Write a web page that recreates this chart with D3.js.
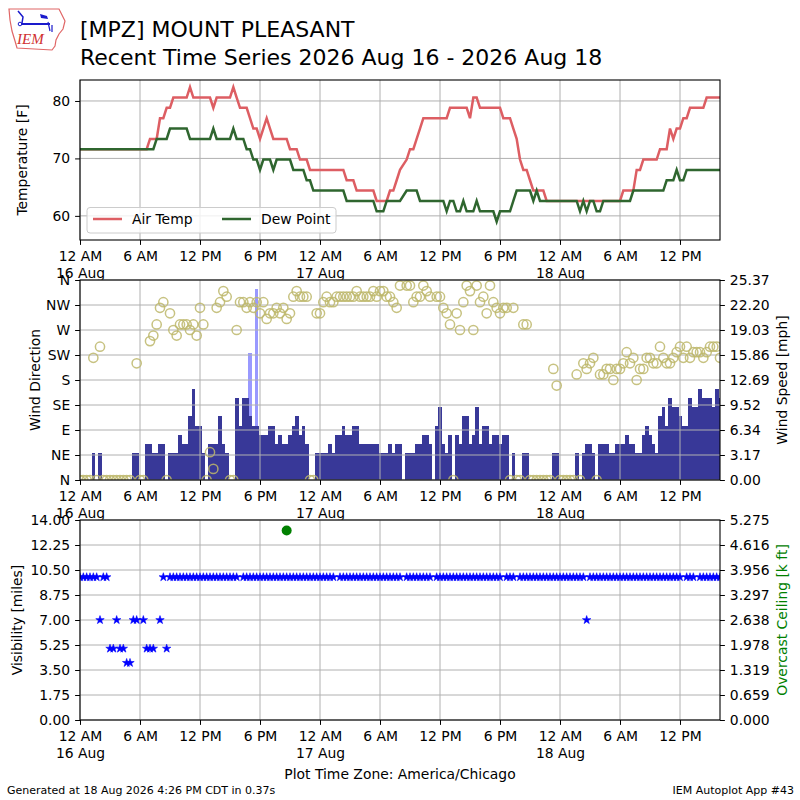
<!DOCTYPE html>
<html>
<head>
<meta charset="utf-8">
<script src="https://cdn.jsdelivr.net/npm/d3@7"></script>
<style>
  body { margin: 0; background: #ffffff; }
  svg { font-family: "DejaVu Sans", sans-serif; }
</style>
</head>
<body>
<div class="chart"></div>
<script>
// MPZ recent time series, one obs every 20 minutes from 16 Aug 00:00
var obsStart = new Date(2026, 7, 16, 0, 0);
var obsStepMinutes = 20;
var plotEnd = new Date(2026, 7, 18, 16, 0);

// air temperature [F], one row = 4 hours
var airTemp = [
  71.6, 71.6, 71.6, 71.6, 71.6, 71.6, 71.6, 71.6, 71.6, 71.6, 71.6, 71.6,
  71.6, 71.6, 71.6, 71.6, 71.6, 71.6, 71.6, 71.6, 71.6, 73.4, 73.4, 73.4,
  77, 77, 78.8, 78.8, 80.6, 80.6, 80.6, 80.6, 80.6, 82.4, 80.6, 80.6,
  80.6, 80.6, 80.6, 80.6, 78.8, 80.6, 80.6, 80.6, 80.6, 80.6, 82.4, 80.6,
  78.8, 78.8, 78.8, 77, 75.2, 75.2, 73.4, 75.2, 77, 75.2, 73.4, 73.4,
  73.4, 73.4, 73.4, 71.6, 71.6, 71.6, 69.8, 69.8, 69.8, 68, 68, 68,
  68, 68, 68, 68, 68, 68, 68, 68, 66.2, 66.2, 66.2, 64.4,
  64.4, 64.4, 64.4, 64.4, 64.4, 62.6, 62.6, 62.6, 62.6, 64.4, 64.4, 66.2,
  68, null, 69.8, 71.6, 71.6, 73.4, 75.2, 77, 77, 77, 77, 77,
  77, 77, 77, 78.8, 78.8, 78.8, 78.8, 78.8, 78.8, 77, 80.6, 80.6,
  78.8, 78.8, 78.8, 78.8, 78.8, 78.8, 78.8, 77, 77, 77, 75.2, 73.4,
  69.8, 68, 68, 66.2, 64.4, 64.4, 64.4, 64.4, 62.6, 62.6, 62.6, 62.6,
  62.6, 62.6, 62.6, 62.6, 62.6, 62.6, 62.6, 62.6, 62.6, 62.6, 62.6, 62.6,
  62.6, 62.6, 62.6, 62.6, 62.6, 62.6, 62.6, 64.4, 64.4, 64.4, 64.4, 68,
  68, 69.8, 69.8, 69.8, 69.8, 69.8, 71.6, 71.6, 71.6, 75.2, 73.4, 75.2,
  75.2, 77, 77, 78.8, 78.8, 78.8, 78.8, 78.8, 80.6, 80.6, 80.6, 80.6,
  80.6
];

// dew point [F]
var dewPoint = [
  71.6, 71.6, 71.6, 71.6, 71.6, 71.6, 71.6, 71.6, 71.6, 71.6, 71.6, 71.6,
  71.6, 71.6, 71.6, 71.6, 71.6, 71.6, 71.6, 71.6, 71.6, 71.6, 71.6, 73.4,
  73.4, 73.4, 73.4, 75.2, 75.2, 75.2, 75.2, 75.2, 75.2, 73.4, 73.4, 73.4,
  73.4, 73.4, 73.4, 73.4, 75.2, 73.4, 73.4, 73.4, 73.4, 73.4, 75.2, 73.4,
  73.4, 73.4, 71.6, 71.6, 69.8, 69.8, 68, 69.8, 69.8, 69.8, 68, 69.8,
  69.8, 69.8, 69.8, 69.8, 68, 68, 68, 68, 66.2, 66.2, 64.4, 64.4,
  64.4, 64.4, 64.4, 64.4, 64.4, 64.4, 64.4, 64.4, 62.6, 62.6, 62.6, 62.6,
  62.6, 62.6, 62.6, 62.6, 62.6, 60.8, 60.8, 60.8, 62.6, 62.6, 62.6, 62.6,
  62.6, null, 64.4, 64.4, 64.4, 64.4, 62.6, 62.6, 62.6, 62.6, 62.6, 62.6,
  62.6, 62.6, 60.8, 62.6, 62.6, 60.8, 60.8, 62.6, 60.8, 60.8, 60.8, 62.6,
  60.8, 60.8, 60.8, 60.8, 60.8, 59, 60.8, 60.8, 60.8, 60.8, 62.6, 64.4,
  64.4, 64.4, 64.4, 64.4, 62.6, 64.4, 62.6, 62.6, 62.6, 62.6, 62.6, 62.6,
  62.6, 62.6, 62.6, 62.6, 62.6, 62.6, 60.8, 62.6, 60.8, 62.6, 62.6, 60.8,
  60.8, 62.6, 62.6, 62.6, 62.6, 62.6, 62.6, 62.6, 62.6, 62.6, 64.4, 64.4,
  64.4, 64.4, 64.4, 64.4, 64.4, 64.4, 64.4, 64.4, 66.2, 66.2, 66.2, 68,
  66.2, 66.2, 68, 68, 68, 68, 68, 68, 68, 68, 68, 68,
  68
];

// sustained wind speed [mph]
var windSpeed = [
  0, 0, 0, 0, 3.45, 0, 3.45, 0, 0, 0, 0, 0,
  0, 0, 0, 0, 3.45, 3.45, 0, 0, 4.6, 4.6, 3.45, 3.45,
  4.6, 4.6, 0, 3.45, 3.45, 3.45, 5.75, 4.6, 4.6, 8.06, 11.51, 6.9,
  6.9, 3.45, 0, 4.6, 4.6, 4.6, 8.06, 4.6, 3.45, 0, 0, 10.36,
  6.9, 10.36, 10.36, 8.06, 6.9, 6.9, 5.75, 5.75, 5.75, 6.9, 6.9, 4.6,
  5.75, 4.6, 4.6, 5.75, 6.9, 8.06, 5.75, 6.9, 4.6, 0, 0, 3.45,
  3.45, 3.45, 3.45, 4.6, 3.45, 5.75, 5.75, 6.9, 5.75, 5.75, 6.9, 6.9,
  4.6, 4.6, 4.6, 4.6, 4.6, 4.6, 3.45, 3.45, 3.45, 4.6, 3.45, 4.6,
  4.6, null, 3.45, 3.45, 3.45, 4.6, 4.6, 5.75, 5.75, 4.6, null, 6.9,
  9.21, 4.6, 3.45, 5.75, 0, 5.75, 4.6, 8.06, 8.06, 4.6, 5.75, 9.21,
  4.6, 6.9, 6.9, 4.6, 5.75, 5.75, 4.6, 5.75, 5.75, 0, 3.45, 0,
  0, 3.45, 3.45, 0, 0, 0, 0, 0, 0, 0, 3.45, 3.45,
  0, 0, 0, 0, 0, 3.45, 0, 3.45, 4.6, 4.6, 3.45, 0,
  4.6, 4.6, 4.6, 3.45, 3.45, 4.6, 4.6, 4.6, 5.75, 4.6, 4.6, 3.45,
  3.45, 5.75, 6.9, 5.75, 4.6, 3.45, 8.06, 9.21, 6.9, 10.36, 9.21, 9.21,
  8.06, 6.9, 6.9, 10.36, 9.21, 9.21, 11.51, 10.36, 10.36, 10.36, 9.21, 11.51,
  10.36
];

// wind direction [deg], 0 = calm
var windDir = [
  0, 0, 0, 0, 220, 0, 240, 0, 0, 0, 0, 0,
  0, 0, 0, 0, null, 210, 0, 0, null, 250, 260, 280,
  310, 320, 0, 300, 270, 260, 280, 280, 280, 270, 280, 260,
  310, 280, 0, 50, 20, 310, 320, 340, 330, 0, 0, 270,
  320, 320, 310, 320, 310, 320, 300, 320, 290, 300, 300, 310,
  300, 310, 290, 300, 330, 340, 330, 330, 330, 0, 0, 300,
  300, 320, 330, 320, 320, 330, 330, 330, 330, 330, 330, 340,
  330, 330, 330, 330, 340, 330, 340, 340, 330, 330, 320, 310,
  350, null, 350, 350, 320, 330, 330, 350, 340, 330, null, 330,
  330, 310, 300, 280, 0, 300, 270, 320, 350, 340, 270, 350,
  320, 330, 300, 350, 320, 310, 300, 310, 310, 0, 310, 0,
  0, 280, 280, 0, 0, 0, 0, 0, 0, 0, 200, 170,
  0, 0, 0, 0, 0, 190, 0, 210, 200, 210, 220, 0,
  190, 190, 200, 200, 180, 200, 200, 210, 230, 210, 220, 180,
  200, 200, 220, 220, 210, 210, 240, 220, 210, 210, 220, 230,
  240, 220, 240, 220, 230, 230, 230, 220, 230, 240, 240, 240,
  220
];

// visibility [miles]
var visibility = [
  10, 10, 10, 10, 10, 10, 7, 10, 10, 5, 5, 7,
  5, 5, 4, 4, 7, 7, null, 7, 5, 5, 5, null,
  7, 10, 5, 10, 10, 10, 10, 10, 10, 10, 10, 10,
  10, 10, 10, 10, 10, 10, 10, 10, 10, 10, 10, 10,
  null, 10, 10, 10, 10, 10, 10, 10, 10, 10, 10, 10,
  10, 10, 10, 10, 10, 10, 10, 10, 10, 10, 10, 10,
  10, 10, 10, 10, 10, null, 10, 10, 10, 10, 10, 10,
  10, 10, 10, 10, 10, 10, 10, 10, 10, 10, 10, 10,
  10, null, 10, 10, 10, 10, 10, 10, 10, 10, null, 10,
  10, 10, 10, 10, 10, 10, 10, 10, 10, 10, 10, 10,
  10, 10, 10, 10, 10, 10, 10, null, 10, 10, 10, null,
  10, 10, 10, 10, 10, 10, 10, 10, 10, 10, 10, 10,
  10, 10, 10, 10, 10, 10, 10, 10, 7, 10, 10, 10,
  10, 10, 10, 10, 10, 10, 10, 10, 10, 10, 10, 10,
  10, 10, 10, 10, 10, 10, 10, 10, 10, 10, 10, 10,
  10, null, 10, 10, 10, null, 10, 10, 10, 10, 10, 10,
  10
];

// gusts and overcast ceiling are only reported a few times
var gustTimes = ["2026-08-16 17:00", "2026-08-16 17:40"];
var gustSpeed = [16.11, 24.17];
var ceilingTimes = ["2026-08-16 20:40"];
var ceilingKft = [5.0];

// axis ticks
var tempTicks = [60, 70, 80];
var dirTicks = [0, 45, 90, 135, 180, 225, 270, 315, 360];
var dirTickLabels = ["N", "NE", "E", "SE", "S", "SW", "W", "NW", "N"];
var speedTicks = [0, 3.17, 6.34, 9.52, 12.69, 15.86, 19.03, 22.20, 25.37];
var visTicks = [0, 1.75, 3.5, 5.25, 7, 8.75, 10.5, 12.25, 14];
var ceilingTicks = [0, 0.659, 1.319, 1.978, 2.638, 3.297, 3.956, 4.616, 5.275];

var svgWidth = 800;
var svgHeight = 800;
var plotLeft = 80;
var plotRight = 720;
var fontSize = 13.9;
var tickLen = 4.9;
var gridColor = "#b0b0b0";

var tempPanel = { top: 80, bottom: 240 };
var windPanel = { top: 280, bottom: 480 };
var visPanel = { top: 520, bottom: 720 };

var svg = d3
  .select(".chart")
  .append("svg")
  .attr("width", svgWidth)
  .attr("height", svgHeight);

var parseTime = d3.timeParse("%Y-%m-%d %H:%M");
var hourFormat = d3.timeFormat("%-I %p");
var dayFormat = d3.timeFormat("%-d %b");

function obsTime(i) {
  return d3.timeMinute.offset(obsStart, i * obsStepMinutes);
}

// pair each value with its obs time, dropping missing obs
function toPoints(values) {
  return values
    .map(function(v, i) { return { time: obsTime(i), value: v }; })
    .filter(function(d) { return d.value !== null; });
}

var xScale = d3.scaleTime()
  .domain([obsStart, plotEnd])
  .range([plotLeft, plotRight]);
var xTicks = d3.timeHour.every(6).range(obsStart, plotEnd);
var barWidth = xScale(obsTime(1)) - xScale(obsTime(0));

// white axes background, drawn in panel order so it hides labels spilling from above
function addBackground(panel) {
  svg.append("rect")
    .attr("x", plotLeft)
    .attr("y", panel.top)
    .attr("width", plotRight - plotLeft)
    .attr("height", panel.bottom - panel.top)
    .attr("fill", "#fff");
}

function addClip(name, panel) {
  svg.append("clipPath")
    .attr("id", "clip-" + name)
    .append("rect")
    .attr("x", plotLeft)
    .attr("y", panel.top)
    .attr("width", plotRight - plotLeft)
    .attr("height", panel.bottom - panel.top);
  return "url(#clip-" + name + ")";
}

function drawGrid(panel, yScale, yTicks) {
  var grid = svg.append("g")
    .attr("stroke", gridColor)
    .attr("stroke-width", 1);
  grid.selectAll("line.v")
    .data(xTicks)
    .enter()
    .append("line")
    .attr("x1", d => xScale(d))
    .attr("x2", d => xScale(d))
    .attr("y1", panel.top)
    .attr("y2", panel.bottom);
  grid.selectAll("line.h")
    .data(yTicks)
    .enter()
    .append("line")
    .attr("x1", plotLeft)
    .attr("x2", plotRight)
    .attr("y1", d => yScale(d))
    .attr("y2", d => yScale(d));
}

function drawFrame(panel) {
  svg.append("rect")
    .attr("x", plotLeft)
    .attr("y", panel.top)
    .attr("width", plotRight - plotLeft)
    .attr("height", panel.bottom - panel.top)
    .attr("fill", "none")
    .attr("stroke", "#000")
    .attr("stroke-width", 1.1);
}

// time axis with two line labels at midnight
function drawXAxis(panel) {
  var axis = d3.axisBottom(xScale)
    .tickValues(xTicks)
    .tickSize(tickLen)
    .tickFormat("");
  var g = svg.append("g")
    .attr("transform", `translate(0, ${panel.bottom})`)
    .call(axis);
  g.select(".domain").remove();
  g.selectAll(".tick").append("text")
    .attr("fill", "#000")
    .attr("font-size", fontSize)
    .attr("font-family", "DejaVu Sans")
    .attr("text-anchor", "middle")
    .each(function(d) {
      var t = d3.select(this);
      t.append("tspan").attr("x", 0).attr("y", 20.5).text(hourFormat(d));
      if (d.getHours() === 0) {
        t.append("tspan").attr("x", 0).attr("y", 37.5).text(dayFormat(d));
      }
    });
}

function drawYAxis(axis, x) {
  var g = svg.append("g")
    .attr("transform", `translate(${x}, 0)`)
    .call(axis);
  g.select(".domain").remove();
  g.attr("font-size", fontSize).attr("font-family", "DejaVu Sans");
  return g;
}

function axisLabel(text, x, y, color) {
  svg.append("text")
    .attr("transform", `translate(${x}, ${y}) rotate(-90)`)
    .attr("text-anchor", "middle")
    .attr("dy", "0.35em")
    .attr("font-size", fontSize)
    .attr("fill", color || "#000")
    .text(text);
}

// ---- header: logo and title ----
var logo = svg.append("g");
logo.append("path")
  .attr("d", "M9,9 L59,9 L61,13 L65,21 L63,29 L59,34 L56,40 L55,46 L52,50 L17,48 L15,41 L12,31 L10,20 Z")
  .attr("fill", "none")
  .attr("stroke", "#e06666")
  .attr("stroke-width", 1.2);
logo.append("line")
  .attr("x1", 21).attr("y1", 24).attr("x2", 50).attr("y2", 24)
  .attr("stroke", "#1a1acc").attr("stroke-width", 2);
logo.append("path")
  .attr("d", "M18,11 L23,17 L22,23")
  .attr("fill", "none").attr("stroke", "#1a1acc").attr("stroke-width", 1.5);
logo.append("path")
  .attr("d", "M40,14 L47,16 L48,19 L41,18 Z")
  .attr("fill", "#1a1acc");
logo.append("path")
  .attr("d", "M48,22 L50,31 M52,25 L52,32")
  .attr("stroke", "#1a1acc").attr("stroke-width", 1.2);
logo.append("circle")
  .attr("cx", 20).attr("cy", 24).attr("r", 1.8)
  .attr("fill", "none").attr("stroke", "#1a1acc");
logo.append("text")
  .attr("x", 17).attr("y", 44)
  .attr("font-family", "Liberation Serif")
  .attr("font-style", "italic")
  .attr("font-size", 15)
  .attr("fill", "#d03030")
  .text("IEM");

svg.append("text")
  .attr("x", 80).attr("y", 37)
  .attr("font-size", 22)
  .text("[MPZ] MOUNT PLEASANT");
svg.append("text")
  .attr("x", 80).attr("y", 65)
  .attr("font-size", 22)
  .text("Recent Time Series 2026 Aug 16 - 2026 Aug 18");

// ---- panel 1: temperature and dew point ----
var tempScale = d3.scaleLinear()
  .domain([55.8, 83.65])
  .range([tempPanel.bottom, tempPanel.top]);
addBackground(tempPanel);
var tempClip = addClip("temp", tempPanel);
drawGrid(tempPanel, tempScale, tempTicks);

var tempLine = d3.line()
  .x(d => xScale(d.time))
  .y(d => tempScale(d.value));

svg.append("path")
  .datum(toPoints(airTemp))
  .attr("clip-path", tempClip)
  .attr("d", tempLine)
  .attr("fill", "none")
  .attr("stroke", "#dd5e63")
  .attr("stroke-width", 2.5);

svg.append("path")
  .datum(toPoints(dewPoint))
  .attr("clip-path", tempClip)
  .attr("d", tempLine)
  .attr("fill", "none")
  .attr("stroke", "#2f662f")
  .attr("stroke-width", 2.5);

drawFrame(tempPanel);
drawXAxis(tempPanel);
drawYAxis(d3.axisLeft(tempScale).tickValues(tempTicks).tickSize(tickLen).tickPadding(tickLen), plotLeft);
axisLabel("Temperature [F]", 22, 160);

// legend
var legend = svg.append("g");
legend.append("rect")
  .attr("x", 87).attr("y", 207.5)
  .attr("width", 249).attr("height", 25.5)
  .attr("rx", 3)
  .attr("fill", "#fff").attr("fill-opacity", 0.8)
  .attr("stroke", "#cccccc");
var legendItems = [
  { label: "Air Temp", color: "#dd5e63", x: 93 },
  { label: "Dew Point", color: "#2f662f", x: 222 }
];
legendItems.forEach(function(item) {
  legend.append("line")
    .attr("x1", item.x).attr("x2", item.x + 29)
    .attr("y1", 219).attr("y2", 219)
    .attr("stroke", item.color).attr("stroke-width", 2.5);
  legend.append("text")
    .attr("x", item.x + 39).attr("y", 224)
    .attr("font-size", fontSize)
    .text(item.label);
});

// ---- panel 2: wind ----
var dirScale = d3.scaleLinear()
  .domain([0, 360])
  .range([windPanel.bottom, windPanel.top]);
var speedScale = d3.scaleLinear()
  .domain([0, 25.37])
  .range([windPanel.bottom, windPanel.top]);
addBackground(windPanel);
var windClip = addClip("wind", windPanel);

// gusts go behind the sustained speed bars
svg.append("g")
  .attr("clip-path", windClip)
  .attr("shape-rendering", "crispEdges")
  .selectAll("rect")
  .data(gustTimes.map((t, i) => ({ time: parseTime(t), value: gustSpeed[i] })))
  .enter()
  .append("rect")
  .attr("x", d => xScale(d.time) - barWidth / 2)
  .attr("width", barWidth)
  .attr("y", d => speedScale(d.value))
  .attr("height", d => speedScale(0) - speedScale(d.value))
  .attr("fill", "#9999ff");

svg.append("g")
  .attr("clip-path", windClip)
  .attr("shape-rendering", "crispEdges")
  .selectAll("rect")
  .data(toPoints(windSpeed).filter(d => d.value > 0))
  .enter()
  .append("rect")
  .attr("x", d => xScale(d.time) - barWidth / 2)
  .attr("width", barWidth + 0.4)
  .attr("y", d => speedScale(d.value))
  .attr("height", d => speedScale(0) - speedScale(d.value))
  .attr("fill", "#383898");

drawGrid(windPanel, dirScale, dirTicks);

svg.append("g")
  .attr("clip-path", windClip)
  .selectAll("circle")
  .data(toPoints(windDir))
  .enter()
  .append("circle")
  .attr("cx", d => xScale(d.time))
  .attr("cy", d => dirScale(d.value))
  .attr("r", 4.6)
  .attr("fill", "none")
  .attr("stroke", "#bdb76b")
  .attr("stroke-opacity", 0.85)
  .attr("stroke-width", 1.5);

drawFrame(windPanel);
drawXAxis(windPanel);
drawYAxis(d3.axisLeft(dirScale).tickValues(dirTicks).tickSize(tickLen).tickPadding(tickLen)
  .tickFormat((d, i) => dirTickLabels[i]), plotLeft);
drawYAxis(d3.axisRight(speedScale).tickValues(speedTicks).tickSize(tickLen).tickPadding(tickLen)
  .tickFormat(d3.format(".2f")), plotRight);
axisLabel("Wind Direction", 35, 380);
axisLabel("Wind Speed [mph]", 782, 380);

// ---- panel 3: visibility and ceiling ----
var visScale = d3.scaleLinear()
  .domain([0, 14])
  .range([visPanel.bottom, visPanel.top]);
var ceilingScale = d3.scaleLinear()
  .domain([0, 5.275])
  .range([visPanel.bottom, visPanel.top]);
addBackground(visPanel);
var visClip = addClip("vis", visPanel);
drawGrid(visPanel, visScale, visTicks);

var star = d3.symbol().type(d3.symbolStar).size(22);
svg.append("g")
  .attr("clip-path", visClip)
  .selectAll("path")
  .data(toPoints(visibility))
  .enter()
  .append("path")
  .attr("d", star)
  .attr("transform", d => `translate(${xScale(d.time)}, ${visScale(d.value)})`)
  .attr("fill", "#0000ff")
  .attr("stroke", "#0000ff")
  .attr("stroke-width", 0.6);

svg.append("g")
  .attr("clip-path", visClip)
  .selectAll("circle")
  .data(ceilingTimes.map((t, i) => ({ time: parseTime(t), value: ceilingKft[i] })))
  .enter()
  .append("circle")
  .attr("cx", d => xScale(d.time))
  .attr("cy", d => ceilingScale(d.value))
  .attr("r", 5)
  .attr("fill", "#008000");

drawFrame(visPanel);
drawXAxis(visPanel);
drawYAxis(d3.axisLeft(visScale).tickValues(visTicks).tickSize(tickLen).tickPadding(tickLen)
  .tickFormat(d3.format(".2f")), plotLeft);
drawYAxis(d3.axisRight(ceilingScale).tickValues(ceilingTicks).tickSize(tickLen).tickPadding(tickLen)
  .tickFormat(d3.format(".3f")), plotRight);
axisLabel("Visibility [miles]", 17, 620);
axisLabel("Overcast Ceiling [k ft]", 782, 620, "#008000");

// ---- footer ----
svg.append("text")
  .attr("x", 400).attr("y", 779)
  .attr("text-anchor", "middle")
  .attr("font-size", fontSize)
  .text("Plot Time Zone: America/Chicago");
svg.append("text")
  .attr("x", 7).attr("y", 794)
  .attr("font-size", 11)
  .text("Generated at 18 Aug 2026 4:26 PM CDT in 0.37s");
svg.append("text")
  .attr("x", 794).attr("y", 794)
  .attr("text-anchor", "end")
  .attr("font-size", 11)
  .text("IEM Autoplot App #43");
</script>
</body>
</html>
